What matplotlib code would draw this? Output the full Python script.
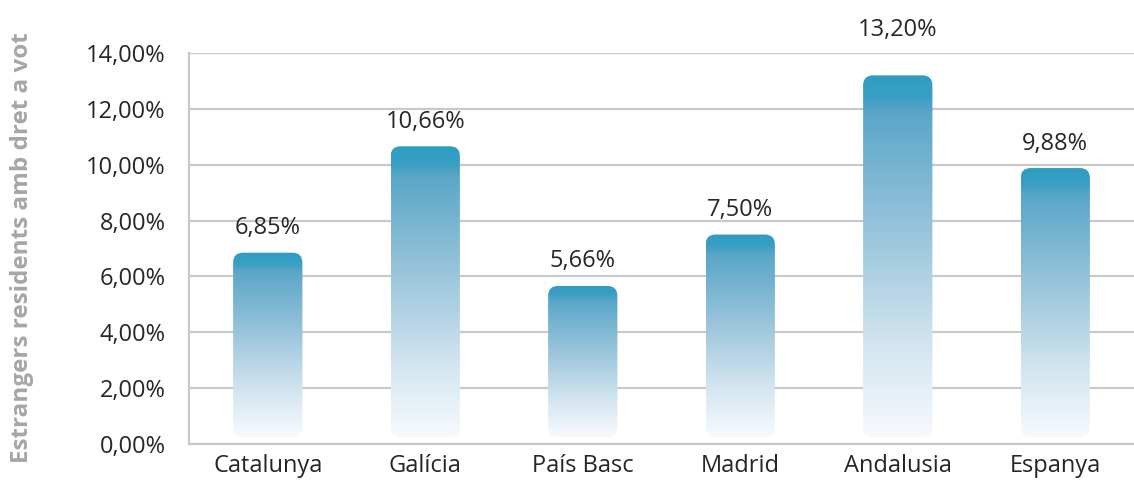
#!/usr/bin/env python3
"""Foreign residents with voting rights, share by region (gradient rounded bars)."""

import numpy as np
import matplotlib
matplotlib.use('Agg')
import matplotlib.pyplot as plt
import matplotlib.colors as mcolors
from matplotlib.patches import FancyBboxPatch

# ---------------------------------------------------------------------------
# Data
# ---------------------------------------------------------------------------
regions = ['Catalunya', 'Galícia', 'País Basc', 'Madrid', 'Andalusia', 'Espanya']
values = [6.85, 10.66, 5.66, 7.50, 13.20, 9.88]
y_ticks = [0, 2, 4, 6, 8, 10, 12, 14]
y_label = 'Estrangers residents amb dret a vot'

plt.rcParams['font.family'] = ['Open Sans', 'DejaVu Sans']

# gradient: dark teal cap on top, fading to almost white at the bottom
grad_cmap = mcolors.LinearSegmentedColormap.from_list(
    'bar_grad',
    [(0.0, '#f7fafd'), (0.25, '#d3e5f0'), (0.55, '#9cc6dc'),
     (0.90, '#5aa6c8'), (0.94, '#3a9fc4'), (1.0, '#2f9cc2')])

# ---------------------------------------------------------------------------
# Figure
# ---------------------------------------------------------------------------
W, H = 1134, 482
fig = plt.figure(figsize=(W / 100, H / 100), dpi=100)
ax = fig.add_axes([189 / W, 1 - 444 / H, (1134 - 189) / W, (444 - 53) / H])

n = len(regions)
ax.set_xlim(-0.5, n - 0.5)
ax.set_ylim(0, 14)

grid_col = '#c9c9c9'
txt_col = '#262626'
fs = 17
ax.set_yticks(y_ticks)
ax.set_yticklabels([f'{t:.2f}%'.replace('.', ',') for t in y_ticks])
ax.yaxis.grid(True, color=grid_col, linewidth=1.6, zorder=0)
ax.set_axisbelow(True)

for s in ['top', 'right']:
    ax.spines[s].set_visible(False)
for s in ['left', 'bottom']:
    ax.spines[s].set_color(grid_col)
    ax.spines[s].set_linewidth(1.6)

ax.set_xticks(range(n))
ax.set_xticklabels(regions)
ax.tick_params(axis='both', length=0, labelsize=fs, labelcolor=txt_col)
ax.tick_params(axis='y', pad=17)
ax.tick_params(axis='x', pad=7)

# px -> data conversions for rounding
px_x = n / (1134 - 189)
px_y = 14 / (444 - 53)
bar_w = 0.44
radius = 10 * px_x
bottom = 7 * px_y

grad = np.linspace(0, 1, 256).reshape(-1, 1)
for i, v in enumerate(values):
    x0 = i - bar_w / 2
    patch = FancyBboxPatch((x0, bottom), bar_w, v - bottom,
                           boxstyle=f'round,pad=0,rounding_size={radius}',
                           mutation_aspect=px_y / px_x,
                           facecolor='none', edgecolor='none', zorder=2)
    ax.add_patch(patch)
    im = ax.imshow(grad, cmap=grad_cmap, aspect='auto', origin='lower',
                   extent=(x0, x0 + bar_w, bottom, v), zorder=2,
                   interpolation='bilinear')
    im.set_clip_path(patch)
    # the top label sits higher in the original
    dy = 24 if v == max(values) else 9
    ax.annotate(f'{v:.2f}%'.replace('.', ','), xy=(i, v), xytext=(0, dy),
                textcoords='offset points', ha='center', va='bottom',
                fontsize=fs, color=txt_col, annotation_clip=False)

ax.set_xlim(-0.5, n - 0.5)
ax.set_ylim(0, 14)

fig.text(22 / W, 1 - 248 / H, y_label, rotation=90, ha='center', va='center',
         fontsize=17.5, fontweight='bold', color='#a6a6a6')

fig.savefig('out.png', dpi=100)
plt.close(fig)
